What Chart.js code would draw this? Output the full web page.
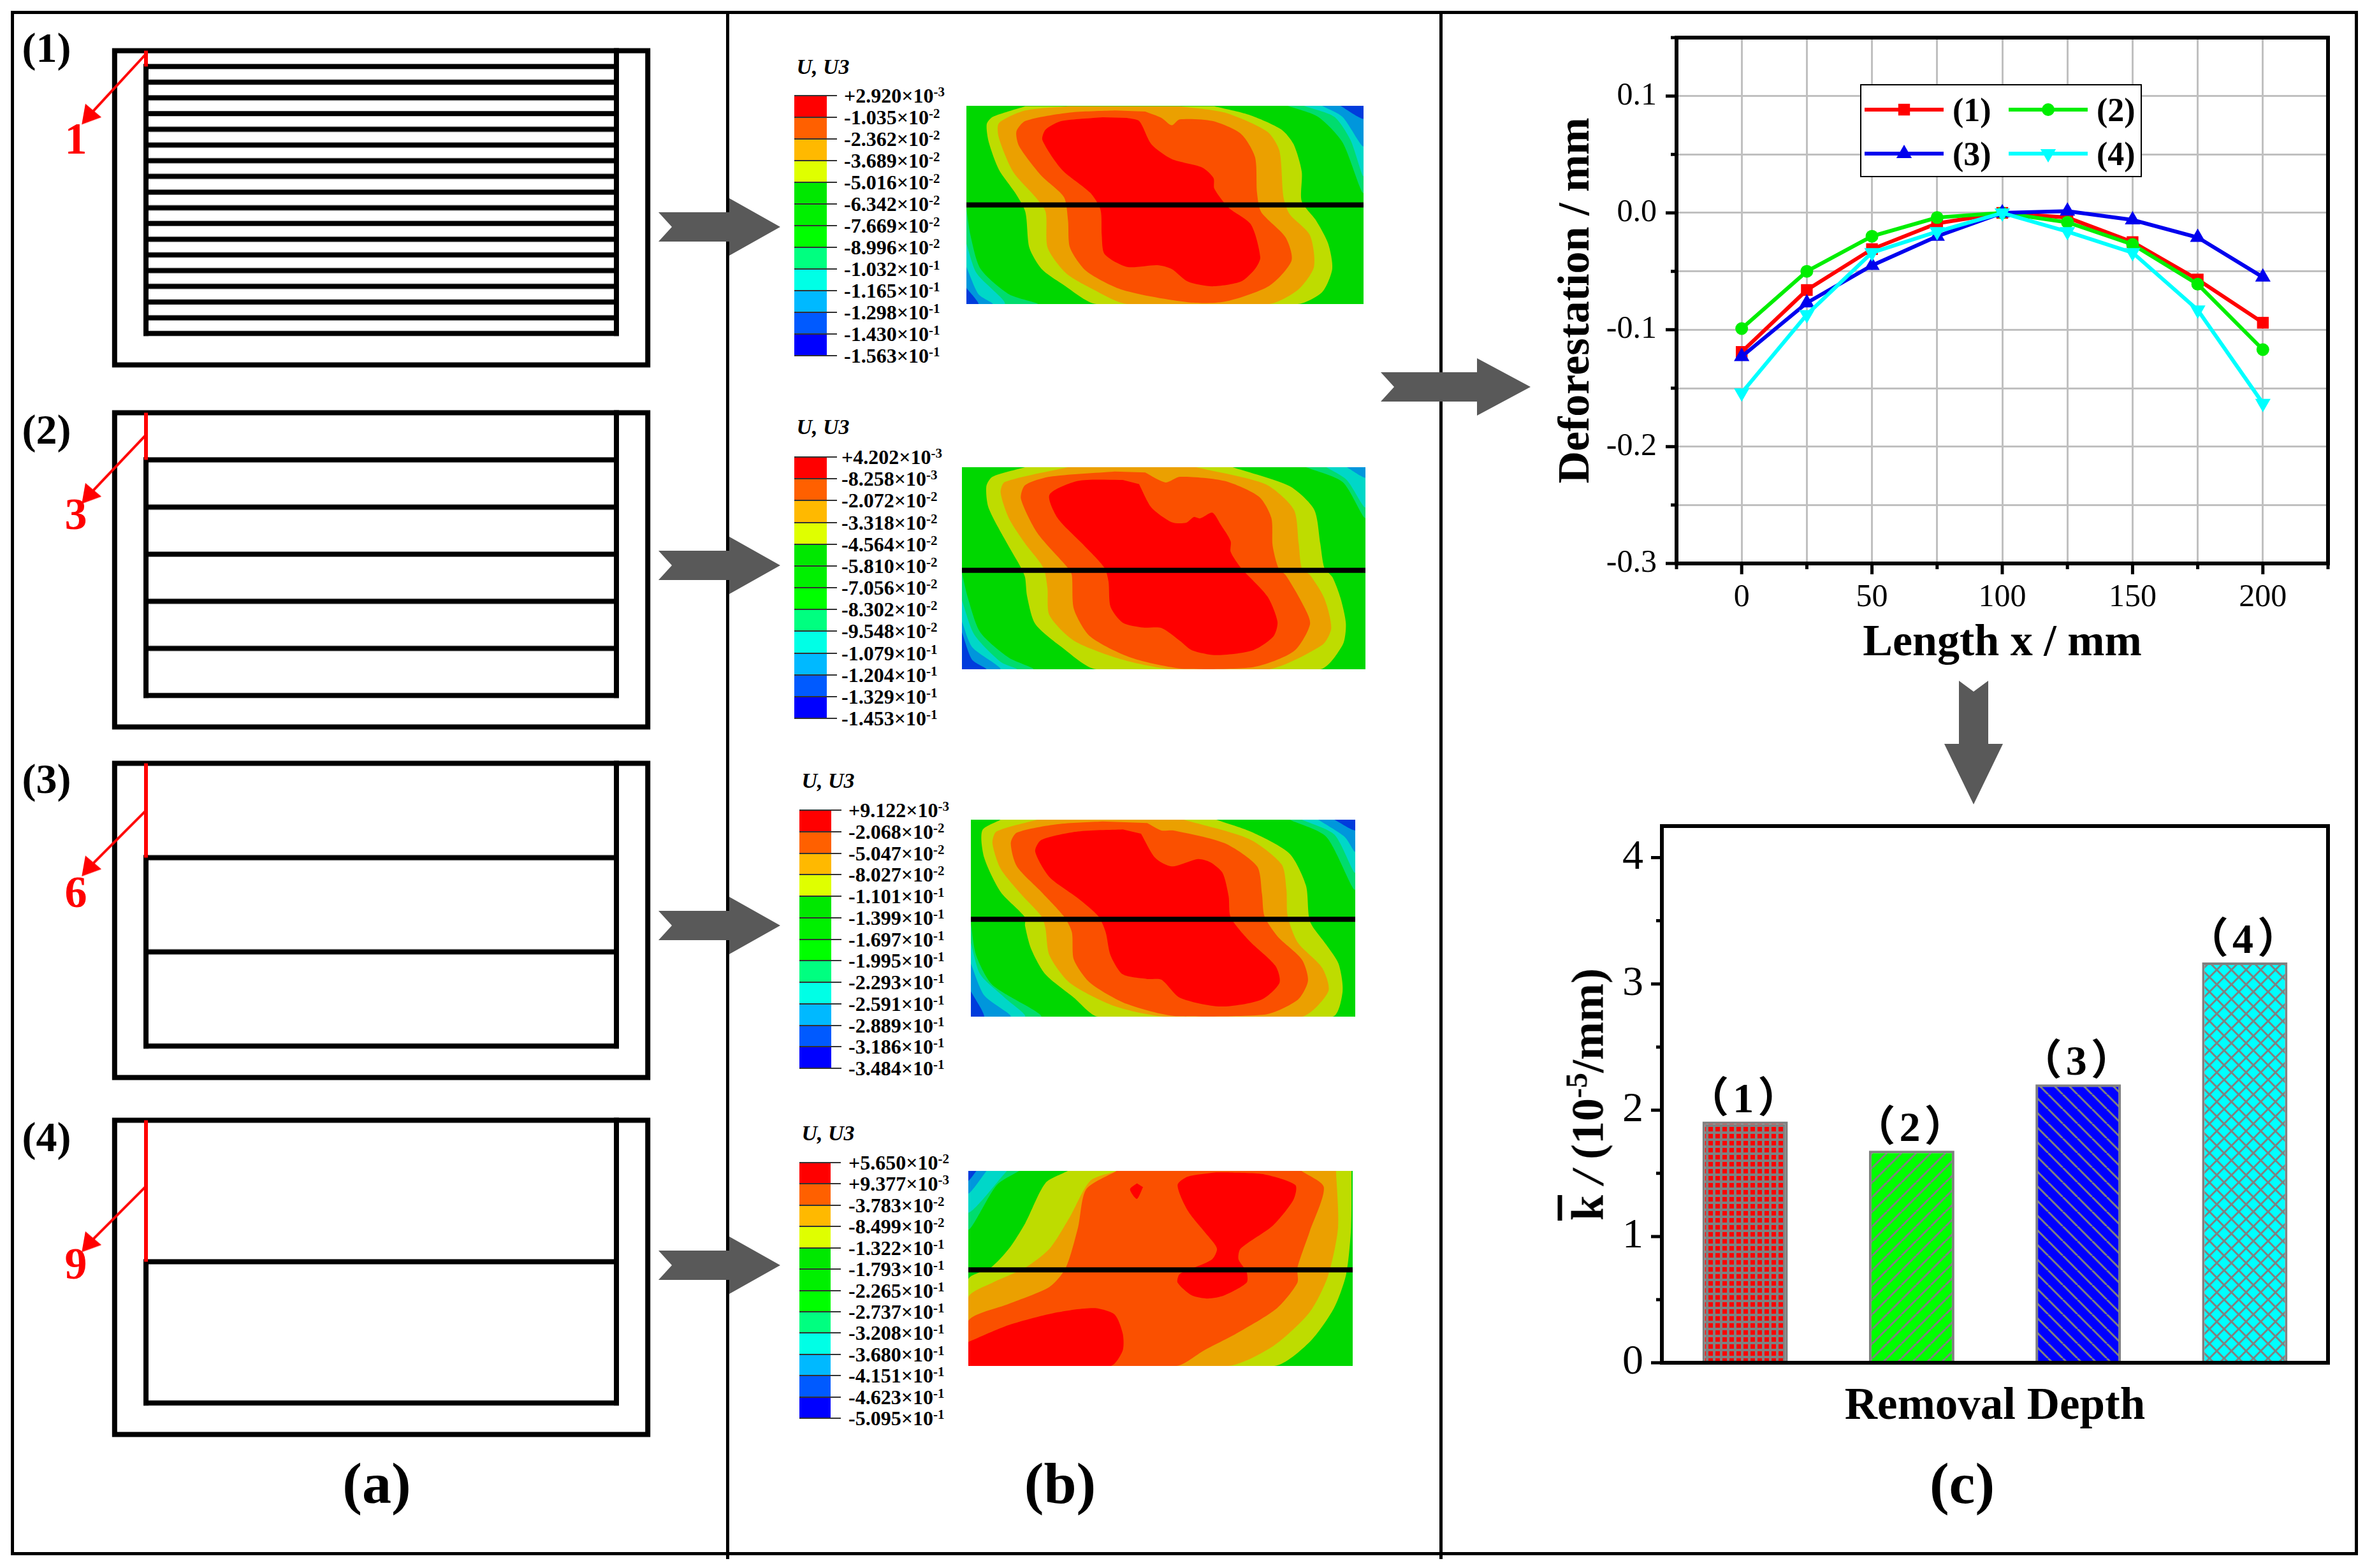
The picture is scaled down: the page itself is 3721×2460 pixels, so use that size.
<!DOCTYPE html>
<html>
<head>
<meta charset="utf-8">
<title>Removal depth and deformation</title>
<script src="https://cdn.jsdelivr.net/npm/chart.js@4/dist/chart.umd.js"></script>
<style>
  html, body { margin: 0; padding: 0; background: #fff; }
  #page { position: relative; width: 3721px; height: 2460px; overflow: hidden; font-family: "Liberation Serif", serif; color: #000; }
  canvas { position: absolute; }
  .txt { position: absolute; white-space: nowrap; transform: translate(-50%, -50%); }
  .bold { font-weight: bold; }
  .rule { position: absolute; background: #000; }
  .cb { position: absolute; white-space: nowrap; font-weight: bold; font-size: 32px; line-height: 32px; transform: translateY(-50%); }
  .cb sup { font-size: 21px; line-height: 0; vertical-align: 10px; }
  svg { position: absolute; left: 0; top: 0; }
</style>
</head>
<body>
<div id="page"></div>
<script>
// line chart (c) top
const lengthX = [0, 25, 50, 75, 100, 125, 150, 175, 200];
const deform1 = [-0.119, -0.066, -0.031, -0.009, 0, -0.004, -0.025, -0.057, -0.094];
const deform2 = [-0.099, -0.05, -0.02, -0.004, 0, -0.008, -0.027, -0.061, -0.117];
const deform3 = [-0.123, -0.077, -0.045, -0.02, 0, 0.0015, -0.006, -0.021, -0.055];
const deform4 = [-0.154, -0.087, -0.034, -0.016, 0, -0.016, -0.034, -0.083, -0.163];
const seriesNames = ["(1)", "(2)", "(3)", "(4)"];

// bar chart (c) bottom
const barLabels = ["（1）", "（2）", "（3）", "（4）"];
const barValues = [1.91, 1.68, 2.205, 3.17];

// schematic (a), depths in mm
const removalStep = [1, 3, 6, 9];
const removedLabel = ["1", "3", "6", "9"];
const arrowStartDepth = [0.2, 1.4, 3, 4.2];
const arrowTipDepth = [4.1, 5.2, 6.6, 7.8];

// colour bars (b)
const legendColors = ["#ff0000", "#ff6000", "#ffb900", "#dfff00", "#00e800", "#00f000", "#00ff00", "#00ff80", "#00ffe6", "#00b9ff", "#005aff", "#0000ff"];
const bar1Labels = ["+2.920|-3", "-1.035|-2", "-2.362|-2", "-3.689|-2", "-5.016|-2", "-6.342|-2", "-7.669|-2", "-8.996|-2", "-1.032|-1", "-1.165|-1", "-1.298|-1", "-1.430|-1", "-1.563|-1"];
const bar2Labels = ["+4.202|-3", "-8.258|-3", "-2.072|-2", "-3.318|-2", "-4.564|-2", "-5.810|-2", "-7.056|-2", "-8.302|-2", "-9.548|-2", "-1.079|-1", "-1.204|-1", "-1.329|-1", "-1.453|-1"];
const bar3Labels = ["+9.122|-3", "-2.068|-2", "-5.047|-2", "-8.027|-2", "-1.101|-1", "-1.399|-1", "-1.697|-1", "-1.995|-1", "-2.293|-1", "-2.591|-1", "-2.889|-1", "-3.186|-1", "-3.484|-1"];
const bar4Labels = ["+5.650|-2", "+9.377|-3", "-3.783|-2", "-8.499|-2", "-1.322|-1", "-1.793|-1", "-2.265|-1", "-2.737|-1", "-3.208|-1", "-3.680|-1", "-4.151|-1", "-4.623|-1", "-5.095|-1"];

// contour outlines (b)
const map1Teal = [[1285,288],[1360,340],[1420,460],[1472,700],[1472,288]];
const map1TealB = [[495,775],[505,900],[530,1060],[600,1180],[670,1226],[495,1226]];
const map1Cyan = [[1325,288],[1400,340],[1440,450],[1472,620],[1472,288]];
const map1CyanB = [[495,940],[520,1080],[590,1226],[495,1226]];
const map1Sky = [[1370,288],[1420,340],[1472,480],[1472,288]];
const map1SkyB = [[495,1050],[525,1180],[560,1226],[495,1226]];
const map1Blue = [[1415,288],[1472,350],[1472,288]];
const map1BlueB = [[495,1150],[525,1226],[495,1226]];
const map1Yellow = [[640,290],[560,340],[545,375],[550,460],[575,590],[615,700],[640,790],[650,960],[680,1060],[730,1130],[815,1226],[1310,1226],[1370,1170],[1395,1060],[1385,940],[1355,830],[1320,740],[1320,600],[1300,470],[1270,400],[1190,330],[1105,290]];
const map1Orange = [[745,290],[640,310],[575,370],[575,440],[610,600],[665,720],[690,790],[695,960],[740,1080],[800,1150],[890,1226],[1240,1226],[1310,1160],[1350,1050],[1340,900],[1290,800],[1275,720],[1265,500],[1235,410],[1130,320],[1020,290]];
const map1Dark = [[860,310],[750,320],[640,360],[618,410],[625,480],[680,620],[735,720],[745,830],[750,960],[790,1070],[880,1160],[1040,1218],[1130,1215],[1240,1140],[1295,1020],[1280,910],[1220,790],[1210,700],[1205,530],[1170,420],[1100,360],[1020,352],[1000,380],[975,345],[935,315]];
const map1Red = [[830,342],[730,360],[690,400],[682,450],[730,590],[800,700],[825,780],[828,900],[835,990],[890,1050],[965,1042],[1000,1060],[1040,1120],[1100,1142],[1170,1120],[1205,1060],[1218,1005],[1195,850],[1140,770],[1105,680],[1103,630],[1075,580],[1000,540],[950,470],[920,360],[890,345]];

const map2Teal = [[1330,280],[1420,350],[1476,520],[1476,280]];
const map2TealB = [[485,780],[500,900],[530,1060],[600,1180],[660,1235],[485,1235]];
const map2Cyan = [[1380,280],[1430,340],[1476,470],[1476,280]];
const map2CyanB = [[485,910],[515,1070],[580,1200],[620,1235],[485,1235]];
const map2Sky = [[1430,280],[1476,330],[1476,280]];
const map2SkyB = [[485,1010],[510,1130],[580,1235],[485,1235]];
const map2BlueB = [[485,1060],[510,1190],[545,1235],[485,1235]];
const map2Yellow = [[640,280],[560,325],[545,370],[550,470],[590,620],[630,755],[640,800],[645,890],[665,1020],[730,1130],[815,1235],[1365,1235],[1420,1120],[1428,1020],[1415,900],[1395,800],[1375,755],[1365,640],[1350,480],[1290,370],[1150,280]];
const map2Orange = [[745,280],[590,350],[580,400],[600,520],[640,640],[685,755],[695,850],[700,980],[760,1100],[880,1190],[1000,1235],[1240,1235],[1370,1120],[1392,1040],[1375,900],[1340,790],[1320,760],[1312,640],[1300,480],[1230,360],[1060,280]];
const map2Dark = [[860,300],[700,325],[640,365],[630,430],[670,590],[745,755],[755,790],[760,950],[800,1080],[900,1180],[1030,1233],[1200,1225],[1300,1150],[1340,1020],[1320,920],[1280,790],[1262,755],[1248,650],[1245,520],[1215,420],[1130,345],[1020,325],[985,352],[935,305]];
const map2Red = [[880,340],[770,345],[700,410],[720,520],[780,640],[835,755],[845,820],[850,940],[880,1015],[930,1038],[975,1040],[1020,1100],[1050,1145],[1110,1168],[1200,1145],[1250,1080],[1260,1010],[1235,890],[1170,755],[1145,680],[1145,630],[1120,550],[1100,495],[1070,522],[1055,515],[1035,543],[1000,540],[950,470],[920,360]];

const map3Teal = [[1290,289],[1380,370],[1451,620],[1451,289]];
const map3TealB = [[507,780],[520,930],[560,1070],[680,1220],[507,1220]];
const map3Cyan = [[1320,289],[1400,360],[1451,540],[1451,289]];
const map3CyanB = [[507,870],[530,1020],[590,1130],[640,1220],[507,1220]];
const map3Sky = [[1360,289],[1425,370],[1451,440],[1451,289]];
const map3SkyB = [[507,970],[540,1120],[605,1220],[507,1220]];
const map3Blue = [[1400,289],[1451,340],[1451,289]];
const map3BlueB = [[507,1100],[540,1220],[507,1220]];
const map3Yellow = [[580,289],[535,340],[540,470],[580,630],[640,750],[640,790],[655,900],[690,1020],[760,1130],[820,1220],[1395,1220],[1420,1100],[1410,970],[1380,880],[1340,770],[1330,600],[1290,450],[1200,350],[1110,289]];
const map3Orange = [[670,289],[570,345],[560,400],[580,520],[630,640],[680,745],[690,800],[700,930],[750,1060],[860,1170],[985,1220],[1320,1220],[1385,1100],[1370,990],[1310,870],[1285,745],[1282,620],[1270,500],[1190,380],[1030,289]];
const map3Dark = [[830,297],[720,310],[620,350],[605,400],[620,510],[680,630],[735,745],[755,820],[760,950],[800,1060],[890,1160],[1010,1218],[1230,1210],[1310,1140],[1335,1050],[1320,950],[1260,840],[1228,745],[1222,640],[1210,510],[1130,400],[1005,340],[975,340],[940,305]];
const map3Red = [[880,335],[770,345],[680,385],[665,440],[700,560],[770,660],[820,745],[838,820],[850,930],[880,1020],[940,1042],[975,1045],[1020,1130],[1120,1172],[1220,1140],[1265,1060],[1255,980],[1190,860],[1145,750],[1140,650],[1125,540],[1095,490],[1065,475],[1000,510],[960,470],[925,355]];

const map4Teal = [[625,233],[570,300],[500,510],[500,233]];
const map4Cyan = [[595,233],[500,430],[500,233]];
const map4Sky = [[545,233],[500,340],[500,233]];
const map4Blue = [[520,233],[500,280],[500,233]];
const map4Yellow = [[745,233],[690,290],[640,480],[600,600],[555,690],[500,745],[500,1153],[1253,1153],[1340,1040],[1400,880],[1430,720],[1442,500],[1443,233]];
const map4Orange = [[865,233],[800,280],[750,450],[700,600],[640,690],[560,760],[500,830],[500,1153],[1140,1153],[1250,1060],[1340,900],[1385,730],[1410,500],[1405,233]];
const map4Dark = [[1320,233],[1375,310],[1340,520],[1310,690],[1310,760],[1260,880],[1160,1000],[1080,1080],[1012,1153],[500,1153],[500,940],[600,860],[700,780],[740,690],[770,500],[790,320],[865,233]];
const map4Red = [[1110,240],[1040,260],[1015,300],[1040,420],[1090,540],[1112,600],[1100,650],[1055,690],[1020,720],[1015,760],[1050,820],[1090,835],[1130,820],[1185,760],[1185,710],[1165,650],[1170,600],[1250,490],[1300,370],[1305,300],[1230,250],[1140,240]];
const map4RedLow = [[500,1040],[600,960],[720,900],[810,880],[860,910],[880,1000],[880,1080],[850,1153],[500,1153]];
const map4RedDot = [[915,292],[898,320],[915,365],[930,310]];

const GREEN = "rgb(0,215,0)", TEAL = "rgb(0,220,110)", CYAN = "rgb(0,215,200)", SKY = "rgb(0,150,220)", BLUE = "rgb(0,60,220)";
const YELLOW = "rgb(190,220,0)", ORANGE = "rgb(235,160,0)", DARK = "rgb(250,80,0)", RED = "rgb(255,0,0)";

const page = document.getElementById("page");

function addCanvas(left, top, w, h) {
  var c = document.createElement("canvas");
  c.width = w;
  c.height = h;
  c.style.left = left + "px";
  c.style.top = top + "px";
  c.style.width = w + "px";
  c.style.height = h + "px";
  page.appendChild(c);
  return c;
}

function addText(html, x, y, size, bold, color, extra) {
  var d = document.createElement("div");
  d.className = "txt" + (bold ? " bold" : "");
  d.innerHTML = html;
  d.style.left = x + "px";
  d.style.top = y + "px";
  d.style.fontSize = size + "px";
  if (color) d.style.color = color;
  if (extra) d.style.cssText += extra;
  page.appendChild(d);
  return d;
}

function addRule(left, top, w, h) {
  var d = document.createElement("div");
  d.className = "rule";
  d.style.cssText = "left:" + left + "px;top:" + top + "px;width:" + w + "px;height:" + h + "px";
  page.appendChild(d);
}

// outer frame and dividers
addRule(17, 17, 3682, 5);
addRule(17, 2435, 3682, 5);
addRule(17, 17, 5, 2423);
addRule(3694, 17, 5, 2423);
addRule(1139, 17, 5, 2429);
addRule(2258, 17, 5, 2429);

// grey block arrows
const svgNS = "http://www.w3.org/2000/svg";
const svg = document.createElementNS(svgNS, "svg");
svg.setAttribute("width", 3721);
svg.setAttribute("height", 2460);
page.appendChild(svg);
function polygon(pts) {
  var p = document.createElementNS(svgNS, "polygon");
  p.setAttribute("points", pts.map(function (a) { return a.join(","); }).join(" "));
  p.setAttribute("fill", "#595959");
  svg.appendChild(p);
}
function rightArrow(x0, x1, cy, headL) {
  polygon([[x0, cy - 23], [x1 - headL, cy - 23], [x1 - headL, cy - 45], [x1, cy], [x1 - headL, cy + 45], [x1 - headL, cy + 23], [x0, cy + 23], [x0 + 21, cy]]);
}
[356, 887, 1452, 1985].forEach(function (cy) { rightArrow(1033, 1224, cy, 80); });
rightArrow(2166, 2401, 607, 84);
polygon([[3073, 1068], [3096, 1085], [3119, 1068], [3119, 1167], [3142, 1167], [3096, 1262], [3050, 1167], [3073, 1167]]);

function noAxis(min, max, reverse) {
  return { type: "linear", display: false, min: min, max: max, reverse: !!reverse };
}

function pts(list) {
  return list.map(function (p) { return { x: p[0], y: p[1] }; });
}

// tick labels must not push the plot area around, sizes are set by hand
function fixedBox(s, size) {
  if (s.isHorizontal()) s.height = size; else s.width = size;
  s.paddingLeft = 0;
  s.paddingRight = 0;
  s.paddingTop = 0;
  s.paddingBottom = 0;
}

// ---- panel (a): specimen sections
const UNIT = 24.6;
const specTops = [80, 648, 1198, 1758];
const specLabelY = [75, 674, 1222, 1784];
const removedLabelY = [218, 807, 1400, 1983];
const specNames = ["(1)", "(2)", "(3)", "(4)"];

function blackLine(list) {
  return { data: pts(list), showLine: true, borderColor: "#000", borderWidth: 8, pointRadius: 0, borderCapStyle: "square", borderJoinStyle: "miter", fill: false, order: 3 };
}

specTops.forEach(function (top, i) {
  var step = removalStep[i];
  var sets = [];
  sets.push(blackLine([[-2, 0], [32, 0], [32, 20], [-2, 20], [-2, 0]]));
  sets.push(blackLine([[0, step], [0, 18]]));
  sets.push(blackLine([[30, 0], [30, 18]]));
  for (var d = step; d <= 18; d += step) {
    sets.push(blackLine([[0, d], [30, d]]));
  }
  sets.push({ data: pts([[0, 0], [0, step]]), showLine: true, borderColor: "#ff0000", borderWidth: 6, pointRadius: 0, order: 2 });
  sets.push({
    data: pts([[0, arrowStartDepth[i]], [-3.6, arrowTipDepth[i]]]),
    showLine: true, borderColor: "#ff0000", borderWidth: 4, order: 1,
    pointStyle: "triangle", pointRotation: 220, backgroundColor: "#ff0000", pointBorderWidth: 0,
    pointRadius: [0, 19]
  });
  var xmin = (100 - 229) / UNIT;
  var c = addCanvas(100, top - UNIT, 960, 22 * UNIT);
  new Chart(c, {
    type: "scatter",
    data: { datasets: sets },
    options: {
      responsive: false, animation: false, devicePixelRatio: 1,
      layout: { autoPadding: false },
      plugins: { legend: { display: false }, tooltip: { enabled: false } },
      scales: { x: noAxis(xmin, xmin + 960 / UNIT), y: noAxis(-1, 21, true) }
    }
  });
  addText(specNames[i], 73, specLabelY[i], 66, true);
  addText(removedLabel[i], 119, removedLabelY[i], 70, true, "#ff0000");
});

// ---- panel (b): colour bars and contour maps
const panels = [
  { labels: bar1Labels, bar: [1246, 150, 51, 408], labelX: 1324, titleX: 1291, titleY: 105, box: [1516, 166, 623, 311], range: [495, 1472, 288, 1226], lineY: 757,
    layers: [[map1Teal, TEAL], [map1TealB, TEAL], [map1Cyan, CYAN], [map1CyanB, CYAN], [map1Sky, SKY], [map1SkyB, SKY], [map1Blue, BLUE], [map1BlueB, BLUE], [map1Yellow, YELLOW], [map1Orange, ORANGE], [map1Dark, DARK], [map1Red, RED]] },
  { labels: bar2Labels, bar: [1246, 717, 51, 410], labelX: 1320, titleX: 1291, titleY: 670, box: [1509, 733, 633, 317], range: [485, 1476, 280, 1235], lineY: 767,
    layers: [[map2Teal, TEAL], [map2TealB, TEAL], [map2Cyan, CYAN], [map2CyanB, CYAN], [map2Sky, SKY], [map2SkyB, SKY], [map2BlueB, BLUE], [map2Yellow, YELLOW], [map2Orange, ORANGE], [map2Dark, DARK], [map2Red, RED]] },
  { labels: bar3Labels, bar: [1254, 1271, 50, 405], labelX: 1331, titleX: 1299, titleY: 1225, box: [1523, 1286, 603, 309], range: [507, 1451, 289, 1220], lineY: 760,
    layers: [[map3Teal, TEAL], [map3TealB, TEAL], [map3Cyan, CYAN], [map3CyanB, CYAN], [map3Sky, SKY], [map3SkyB, SKY], [map3Blue, BLUE], [map3BlueB, BLUE], [map3Yellow, YELLOW], [map3Orange, ORANGE], [map3Dark, DARK], [map3Red, RED]] },
  { labels: bar4Labels, bar: [1254, 1824, 49, 401], labelX: 1331, titleX: 1299, titleY: 1778, box: [1519, 1837, 603, 306], range: [500, 1446, 233, 1153], lineY: 700,
    layers: [[map4Teal, TEAL], [map4Cyan, CYAN], [map4Sky, SKY], [map4Blue, BLUE], [map4Yellow, YELLOW], [map4Orange, ORANGE], [map4Dark, DARK], [map4Red, RED], [map4RedLow, RED], [map4RedDot, RED]] }
];

panels.forEach(function (p) {
  addText("<i>U, U3</i>", p.titleX, p.titleY, 34, true);

  // colour bar
  var b = p.bar;
  var c = addCanvas(b[0] - 2, b[1] - 2, b[2] + 18, b[3] + 4);
  new Chart(c, {
    type: "bar",
    data: {
      labels: [""],
      datasets: legendColors.map(function (col) {
        return { data: [1], backgroundColor: col, stack: "s", barPercentage: 1, categoryPercentage: 1 };
      })
    },
    options: {
      responsive: false, animation: false, devicePixelRatio: 1,
      layout: { padding: { left: 2, top: 2, bottom: 2 } },
      plugins: { legend: { display: false }, tooltip: { enabled: false } },
      scales: {
        x: { display: false, stacked: true },
        y: {
          position: "right", min: 0, max: 12, reverse: true, stacked: true,
          afterFit: function (s) { fixedBox(s, 16); },
          ticks: { display: false, stepSize: 1 },
          border: { display: false },
          grid: { color: "#333", lineWidth: 2, tickLength: 16, z: 1 }
        }
      }
    }
  });

  p.labels.forEach(function (s, i) {
    var part = s.split("|");
    var d = document.createElement("div");
    d.className = "cb";
    d.innerHTML = part[0] + "×10<sup>" + part[1] + "</sup>";
    d.style.left = p.labelX + "px";
    d.style.top = (b[1] + b[3] * i / 12) + "px";
    page.appendChild(d);
  });

  // contour map
  var box = p.box, r = p.range;
  var sets = [];
  p.layers.forEach(function (l, i) {
    sets.push({ data: pts(l[0]), showLine: true, fill: "shape", backgroundColor: l[1], borderWidth: 0, pointRadius: 0, tension: 0.25, order: -i });
  });
  sets.push({ data: pts([[r[0], p.lineY], [r[1], p.lineY]]), showLine: true, fill: false, borderColor: "#000", borderWidth: 8, pointRadius: 0, order: -100 });
  var m = addCanvas(box[0], box[1], box[2], box[3]);
  new Chart(m, {
    type: "scatter",
    data: { datasets: sets },
    options: {
      responsive: false, animation: false, devicePixelRatio: 1,
      layout: { autoPadding: false },
      plugins: {
        legend: { display: false }, tooltip: { enabled: false },
        filler: { propagate: false }
      },
      scales: { x: noAxis(r[0], r[1]), y: noAxis(r[2], r[3], true) }
    }
  });
  m.style.backgroundColor = GREEN;
});

// ---- panel (c): shared frame and tick drawing
const framePlugin = {
  id: "frame",
  afterDatasetsDraw: function (chart) {
    var a = chart.chartArea, ctx = chart.ctx;
    ctx.save();
    ctx.strokeStyle = "#000";
    ctx.lineWidth = 6;
    ctx.strokeRect(a.left, a.top, a.right - a.left, a.bottom - a.top);
    ctx.lineWidth = 5;
    ctx.beginPath();
    var y = chart.scales.y;
    y.ticks.forEach(function (t) {
      var py = y.getPixelForValue(t.value);
      var major = Math.abs(t.value / chart.options.majorY - Math.round(t.value / chart.options.majorY)) < 1e-6;
      ctx.moveTo(a.left, py);
      ctx.lineTo(a.left - (major ? 17 : 9), py);
    });
    var x = chart.scales.x;
    if (x.type === "linear") {
      x.ticks.forEach(function (t) {
        var px = x.getPixelForValue(t.value);
        ctx.moveTo(px, a.bottom);
        ctx.lineTo(px, a.bottom + (t.value % 50 === 0 ? 17 : 9));
      });
    }
    ctx.stroke();
    ctx.restore();
  }
};

// line chart legend, two by two, built from the dataset styles
const lineLegend = {
  id: "lineLegend",
  afterDraw: function (chart) {
    var ctx = chart.ctx;
    var ox = chart.canvas.offsetLeft, oy = chart.canvas.offsetTop;
    var boxL = 2919 - ox, boxT = 133 - oy;
    ctx.save();
    ctx.fillStyle = "#fff";
    ctx.fillRect(boxL, boxT, 440, 144);
    ctx.strokeStyle = "#000";
    ctx.lineWidth = 2;
    ctx.strokeRect(boxL, boxT, 440, 144);
    chart.data.datasets.forEach(function (ds, i) {
      var col = i % 2, row = Math.floor(i / 2);
      var x0 = boxL + 6 + col * 226, y0 = boxT + 39 + row * 69;
      ctx.strokeStyle = ds.borderColor;
      ctx.lineWidth = 6;
      ctx.beginPath();
      ctx.moveTo(x0, y0);
      ctx.lineTo(x0 + 124, y0);
      ctx.stroke();
      ctx.fillStyle = ds.borderColor;
      Chart.helpers.drawPoint(ctx, { pointStyle: ds.pointStyle, radius: ds.pointRadius, rotation: ds.pointRotation || 0, borderWidth: 0 }, x0 + 62, y0);
      ctx.fillStyle = "#000";
      ctx.font = "bold 52px 'Liberation Serif'";
      ctx.textBaseline = "middle";
      ctx.fillText(ds.label, x0 + 138, y0 + 5);
    });
    ctx.restore();
  }
};

function lineSet(label, values, color, style, radius, rotation) {
  return {
    label: label,
    data: lengthX.map(function (x, i) { return { x: x, y: values[i] }; }),
    showLine: true,
    borderColor: color, backgroundColor: color, borderWidth: 6,
    pointStyle: style, pointRadius: radius, pointRotation: rotation || 0, pointBorderWidth: 0,
    tension: 0
  };
}

const lineDatasets = [
  lineSet(seriesNames[0], deform1, "#ff0000", "rect", 13),
  lineSet(seriesNames[1], deform2, "#00ee00", "circle", 10),
  lineSet(seriesNames[2], deform3, "#0000ee", "triangle", 14),
  lineSet(seriesNames[3], deform4, "#00ffff", "triangle", 14, 180)
];
lineDatasets.forEach(function (d, i) { d.order = -i; });

new Chart(addCanvas(2432, 49, 1232, 1003), {
  type: "scatter",
  data: { datasets: lineDatasets },
  options: {
    responsive: false, animation: false, devicePixelRatio: 1, majorY: 0.1,
    layout: { autoPadding: false, padding: { top: 10, right: 12 } },
    plugins: { legend: { display: false }, tooltip: { enabled: false } },
    scales: {
      x: {
        type: "linear", min: -25, max: 225,
        afterFit: function (s) { fixedBox(s, 168); },
        ticks: {
          stepSize: 25, autoSkip: false, maxRotation: 0, padding: 24, color: "#000",
          font: { family: "Liberation Serif", size: 50 },
          callback: function (v) { return v % 50 === 0 ? String(v) : ""; }
        },
        grid: { color: "#c0c0c0", lineWidth: 3, drawTicks: false },
        border: { display: false },
        title: { display: true, text: "Length x / mm", color: "#000", padding: 0, font: { family: "Liberation Serif", size: 70, weight: "bold" } }
      },
      y: {
        type: "linear", min: -0.3, max: 0.15,
        afterFit: function (s) { fixedBox(s, 198); },
        ticks: {
          stepSize: 0.05, autoSkip: false, padding: 31, color: "#000",
          font: { family: "Liberation Serif", size: 50 },
          callback: function (v) {
            var t = v * 10;
            return Math.abs(t - Math.round(t)) < 1e-6 ? v.toFixed(1) : "";
          }
        },
        grid: { color: "#c0c0c0", lineWidth: 3, drawTicks: false },
        border: { display: false },
        title: { display: true, text: "Deforestation / mm", color: "#000", padding: 0, font: { family: "Liberation Serif", size: 70, weight: "bold" } }
      }
    }
  },
  plugins: [framePlugin, lineLegend]
});

// bar fills: colour tile with grey hatching
function hatch(color, kind) {
  var size = kind === "grid" ? 11 : 23;
  var t = document.createElement("canvas");
  t.width = size;
  t.height = size;
  var g = t.getContext("2d");
  g.fillStyle = color;
  g.fillRect(0, 0, size, size);
  g.strokeStyle = "#808080";
  g.fillStyle = "#808080";
  g.lineWidth = 3;
  if (kind === "grid") {
    g.fillRect(0, 0, 4, size);
    g.fillRect(0, 0, size, 4);
  }
  function diag(up) {
    for (var k = -1; k <= 1; k++) {
      g.beginPath();
      if (up) {
        g.moveTo(k * size, size);
        g.lineTo(k * size + size, 0);
      } else {
        g.moveTo(k * size, 0);
        g.lineTo(k * size + size, size);
      }
      g.stroke();
    }
  }
  if (kind === "up" || kind === "cross") diag(true);
  if (kind === "down" || kind === "cross") diag(false);
  return g.createPattern(t, "repeat");
}

const barFills = [hatch("#ff0000", "grid"), hatch("#00ff00", "up"), hatch("#0000ff", "down"), hatch("#00ffff", "cross")];

const barTopLabels = {
  id: "barTopLabels",
  afterDatasetsDraw: function (chart) {
    var ctx = chart.ctx;
    var meta = chart.getDatasetMeta(0);
    ctx.save();
    ctx.fillStyle = "#000";
    ctx.font = "bold 66px 'Liberation Serif', 'Noto Sans CJK SC'";
    ctx.letterSpacing = "6px";
    ctx.textAlign = "center";
    ctx.textBaseline = "middle";
    meta.data.forEach(function (bar, i) {
      ctx.fillText(barLabels[i], bar.x, bar.y - 32);
    });
    ctx.restore();
  }
};

new Chart(addCanvas(2500, 1280, 1164, 970), {
  type: "bar",
  data: {
    labels: barLabels,
    datasets: [{ data: barValues, backgroundColor: barFills, borderColor: "#808080", borderWidth: 4, barPercentage: 1, categoryPercentage: 0.513 }]
  },
  options: {
    responsive: false, animation: false, devicePixelRatio: 1, majorY: 1,
    layout: { padding: { top: 16, right: 12 } },
    plugins: { legend: { display: false }, tooltip: { enabled: false } },
    scales: {
      x: {
        afterFit: function (s) { fixedBox(s, 112); },
        ticks: { display: false },
        grid: { display: false },
        border: { display: false },
        title: { display: true, text: "Removal Depth", color: "#000", padding: { top: 36, bottom: 0 }, font: { family: "Liberation Serif", size: 71, weight: "bold" } }
      },
      y: {
        type: "linear", min: 0, max: 4.25,
        afterFit: function (s) { fixedBox(s, 107); },
        ticks: {
          stepSize: 0.5, includeBounds: false, autoSkip: false, padding: 29, color: "#000",
          font: { family: "Liberation Serif", size: 66 },
          callback: function (v) { return Number.isInteger(v) ? String(v) : ""; }
        },
        grid: { display: false, drawTicks: false },
        border: { display: false }
      }
    }
  },
  plugins: [framePlugin, barTopLabels]
});

addText('<span style="text-decoration:overline">k</span> <i>/ </i>(10<sup style="font-size:48px;line-height:0">-5</sup>/mm)', 2491, 1717, 72, true, null, "transform:translate(-50%,-50%) rotate(-90deg)");

addText("(a)", 591, 2327, 92, true);
addText("(b)", 1663, 2327, 92, true);
addText("(c)", 3078, 2327, 92, true);
</script>
</body>
</html>
